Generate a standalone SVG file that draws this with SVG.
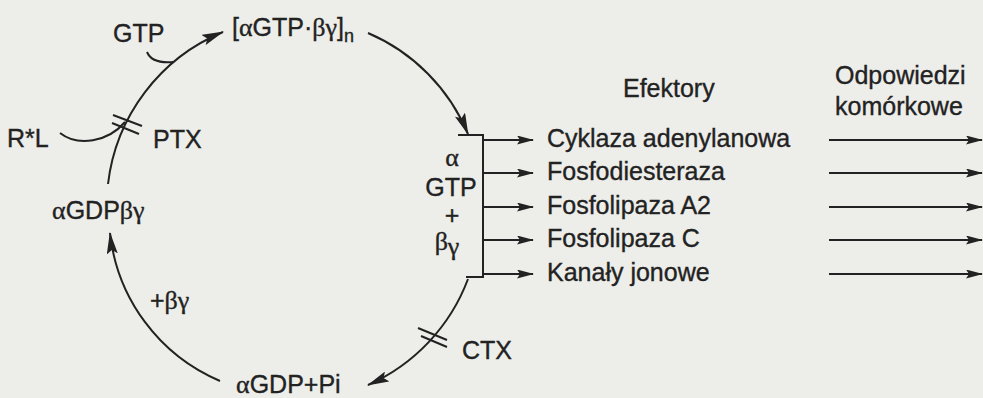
<svg xmlns="http://www.w3.org/2000/svg" width="983" height="398" viewBox="0 0 983 398">
  <style>
    .t { font-family: "Liberation Sans", Arial, sans-serif; font-size: 25px; fill: #222; stroke: #222; stroke-width: 0.35px; }
    .g { font-family: "Liberation Serif", "Times New Roman", serif; font-size: 26px; }
    .ln { fill: none; stroke: #222; stroke-width: 2; }
    .bar { fill: none; stroke: #222; stroke-width: 2; }
  </style>
  <defs>
    <!-- large head for the cycle arcs -->
    <marker id="ah" viewBox="0 0 22 11" refX="21" refY="5.5" markerWidth="22" markerHeight="11" markerUnits="userSpaceOnUse" orient="auto">
      <path d="M0,0 L22,5.5 L0,11 L4,5.5 Z" fill="#222"/>
    </marker>
    <!-- small head for the straight effector/response arrows -->
    <marker id="ahs" viewBox="0 0 17 9" refX="16" refY="4.5" markerWidth="17" markerHeight="9" markerUnits="userSpaceOnUse" orient="auto">
      <path d="M0,0 L17,4.5 L0,9 L3,4.5 Z" fill="#222"/>
    </marker>
  </defs>

  <rect x="0" y="0" width="983" height="398" fill="#edede9"/>

  <g id="connectors">
    <!-- activation: αGDPβγ -> [αGTP·βγ]n -->
    <path class="ln" d="M108,184 A188,188 0 0 1 223,32" marker-end="url(#ah)"/>
    <!-- GTP joining the arc -->
    <path class="ln" d="M147,52 Q152,64 173.5,62"/>
    <!-- R*L joining the arc -->
    <path class="ln" d="M60,133 C78,147 108,142 125,122"/>
    <!-- PTX block -->
    <path class="bar" d="M113,115 L142,126 M112,123 L139,134"/>
    <!-- dissociation into α-GTP + βγ -->
    <path class="ln" d="M368,33 A188,188 0 0 1 468,134" marker-end="url(#ah)"/>
    <!-- α-GTP + βγ bracket -->
    <path class="ln" d="M458,135 L483,135 L483,277 L466,277"/>
    <!-- hydrolysis -->
    <path class="ln" d="M468,279 A188,188 0 0 1 368,385" marker-end="url(#ah)"/>
    <!-- CTX block -->
    <path class="bar" d="M418,328 L447,340 M421,336 L447,347"/>
    <!-- reassociation with βγ -->
    <path class="ln" d="M220,381 A182,182 0 0 1 110,233" marker-end="url(#ah)"/>

    <!-- effector arrows -->
    <path class="ln" d="M483,140 H533" marker-end="url(#ahs)"/>
    <path class="ln" d="M483,173 H533" marker-end="url(#ahs)"/>
    <path class="ln" d="M483,207 H533" marker-end="url(#ahs)"/>
    <path class="ln" d="M483,240 H533" marker-end="url(#ahs)"/>
    <path class="ln" d="M483,274 H533" marker-end="url(#ahs)"/>

    <!-- cellular response arrows -->
    <path class="ln" d="M829,140 H982" marker-end="url(#ahs)"/>
    <path class="ln" d="M829,173 H982" marker-end="url(#ahs)"/>
    <path class="ln" d="M829,207 H982" marker-end="url(#ahs)"/>
    <path class="ln" d="M829,240 H982" marker-end="url(#ahs)"/>
    <path class="ln" d="M829,274 H982" marker-end="url(#ahs)"/>
  </g>

  <!-- cycle states -->
  <g id="gtp"><text class="t" x="113" y="42">GTP</text></g>
  <g id="active-complex">
    <text class="t" x="232" y="36">[<tspan class="g">α</tspan>GTP·<tspan class="g">βγ</tspan>]<tspan font-size="18" dy="6">n</tspan></text>
  </g>
  <g id="receptor"><text class="t" x="7" y="147">R*L</text></g>
  <g id="ptx"><text class="t" x="153" y="148">PTX</text></g>
  <g id="gdp-trimer"><text class="t" x="52" y="219"><tspan class="g">α</tspan>GDP<tspan class="g">βγ</tspan></text></g>
  <g id="plus-bg"><text class="t" x="150" y="309">+<tspan class="g">βγ</tspan></text></g>
  <g id="gdp-pi"><text class="t" x="236" y="393"><tspan class="g">α</tspan>GDP+Pi</text></g>
  <g id="ctx"><text class="t" x="462" y="359">CTX</text></g>

  <g id="alpha-gtp-bg">
    <text class="t" x="452" y="166" text-anchor="middle"><tspan class="g">α</tspan></text>
    <text class="t" x="451" y="196" text-anchor="middle">GTP</text>
    <text class="t" x="452" y="224" text-anchor="middle">+</text>
    <text class="t" x="447" y="250" text-anchor="middle"><tspan class="g">β</tspan><tspan class="g" dy="5">γ</tspan></text>
  </g>

  <!-- effectors -->
  <g id="effectors-head"><text class="t" x="623" y="97">Efektory</text></g>
  <g id="eff-ac"><text class="t" x="547" y="147">Cyklaza adenylanowa</text></g>
  <g id="eff-pde"><text class="t" x="547" y="180">Fosfodiesteraza</text></g>
  <g id="eff-pla2"><text class="t" x="547" y="214">Fosfolipaza A2</text></g>
  <g id="eff-plc"><text class="t" x="547" y="247">Fosfolipaza C</text></g>
  <g id="eff-ion"><text class="t" x="547" y="281">Kanały jonowe</text></g>

  <!-- responses -->
  <g id="responses-head">
    <text class="t" x="835" y="84">Odpowiedzi</text>
    <text class="t" x="835" y="115">komórkowe</text>
  </g>
</svg>
